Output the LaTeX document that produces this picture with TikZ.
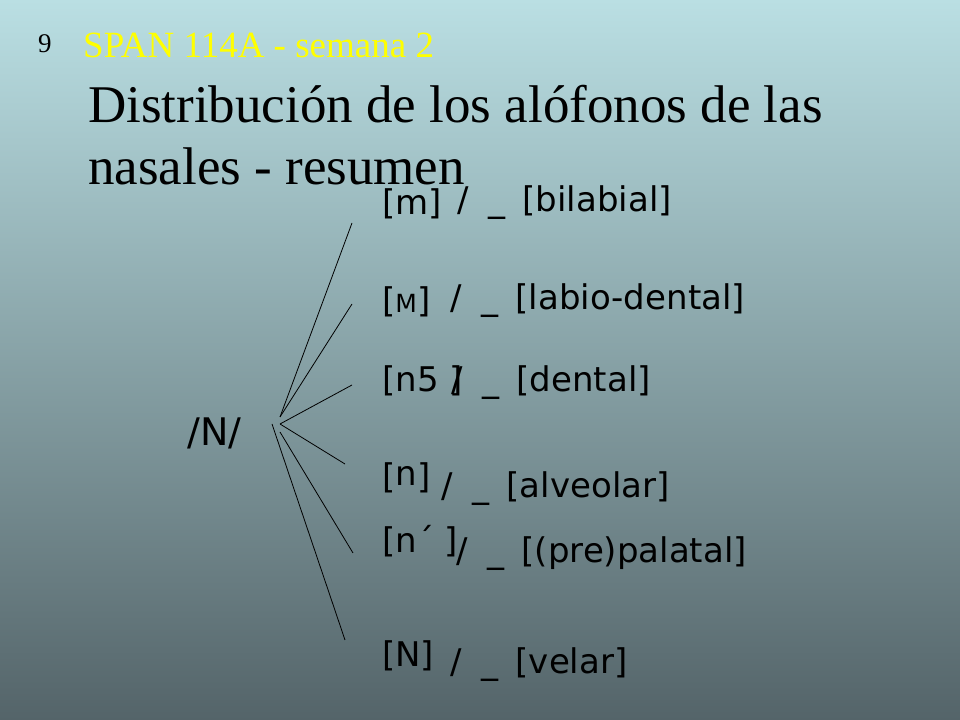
\documentclass[tikz,border=0pt]{standalone}
\usepackage{fontspec}
\setmainfont{Liberation Serif}
\newfontfamily\comicfont{DejaVu Sans}
\usepackage{tikz}
\definecolor{bgtop}{RGB}{186,223,227}
\definecolor{bgmid}{RGB}{142,166,169}
\definecolor{bgbot}{RGB}{84,100,105}
\definecolor{course}{RGB}{255,255,0}
\newcommand\ctx[1]{/\hspace{20bp}\_\hspace{17bp}[#1]}
\tikzset{
	phone/.style={anchor=base west, inner sep=0pt, font=\fontsize{34bp}{40bp}\selectfont\comicfont},
	branch/.style={line width=0.8bp, black},
}

\begin{document}
\begin{tikzpicture}[x=1bp,y=1bp]
	\shade [top color=bgtop, middle color=bgmid, bottom color=bgbot] (0,0) rectangle (960,720);
	\useasboundingbox (0,0) rectangle (960,720);

	% heading
	\node (num) [anchor=base west, inner sep=0pt, font=\fontsize{27bp}{30bp}\selectfont] at (38,667) {9};
	\node (course) [anchor=base west, inner sep=0pt, text=course, font=\fontsize{37bp}{40bp}\selectfont] at (83,662) {SPAN 114A - semana 2};
	\node (title) [anchor=base west, inner sep=0pt, align=left, font=\fontsize{53bp}{62bp}\selectfont] at (88,535) {Distribución de los alófonos de las\\nasales - resumen};

	% phoneme and forks
	\node (phon) [phone, font=\fontsize{38bp}{40bp}\selectfont\comicfont] at (187,274) {/N/};
	\coordinate (fa) at (280,303);
	\coordinate (fb) at (280,296);
	\coordinate (fc) at (280,288);
	\coordinate (fd) at (272,296);
	\coordinate (e1) at (352,497);
	\coordinate (e2) at (352,416);
	\coordinate (e3) at (352,335);
	\coordinate (e4) at (345,256);
	\coordinate (e5) at (353,167);
	\coordinate (e6) at (345,80);
	\foreach \s/\e in {fa/e1, fa/e2, fb/e3, fb/e4, fc/e5, fd/e6}
		\draw [branch] (\s) -- (\e);

	% allophones
	\node (m) [phone] at (382,505) {[m]};
	\node (M) [phone] at (382,407) {[{\fontsize{25bp}{25bp}\selectfont M}]};
	\node (n5) [phone] at (382,328) {[n5 ]};
	\node (n) [phone] at (382,231) {[\raisebox{3bp}{n}]};
	\node (ny) [phone] at (382,167) {[n´ ]};
	\node (NN) [phone] at (382,53) {[N]};

	% contexts
	\node (c1) [phone] at (457,508) {\ctx{bilabial}};
	\node (c2) [phone] at (450,410) {\ctx{labio-dental}};
	\node (c3) [phone] at (451,328) {\ctx{dental}};
	\node (c4) [phone] at (441,222) {\ctx{alveolar}};
	\node (c5) [phone] at (456,157) {\ctx{(pre)palatal}};
	\node (c6) [phone] at (450,46) {\ctx{velar}};
\end{tikzpicture}
\end{document}
